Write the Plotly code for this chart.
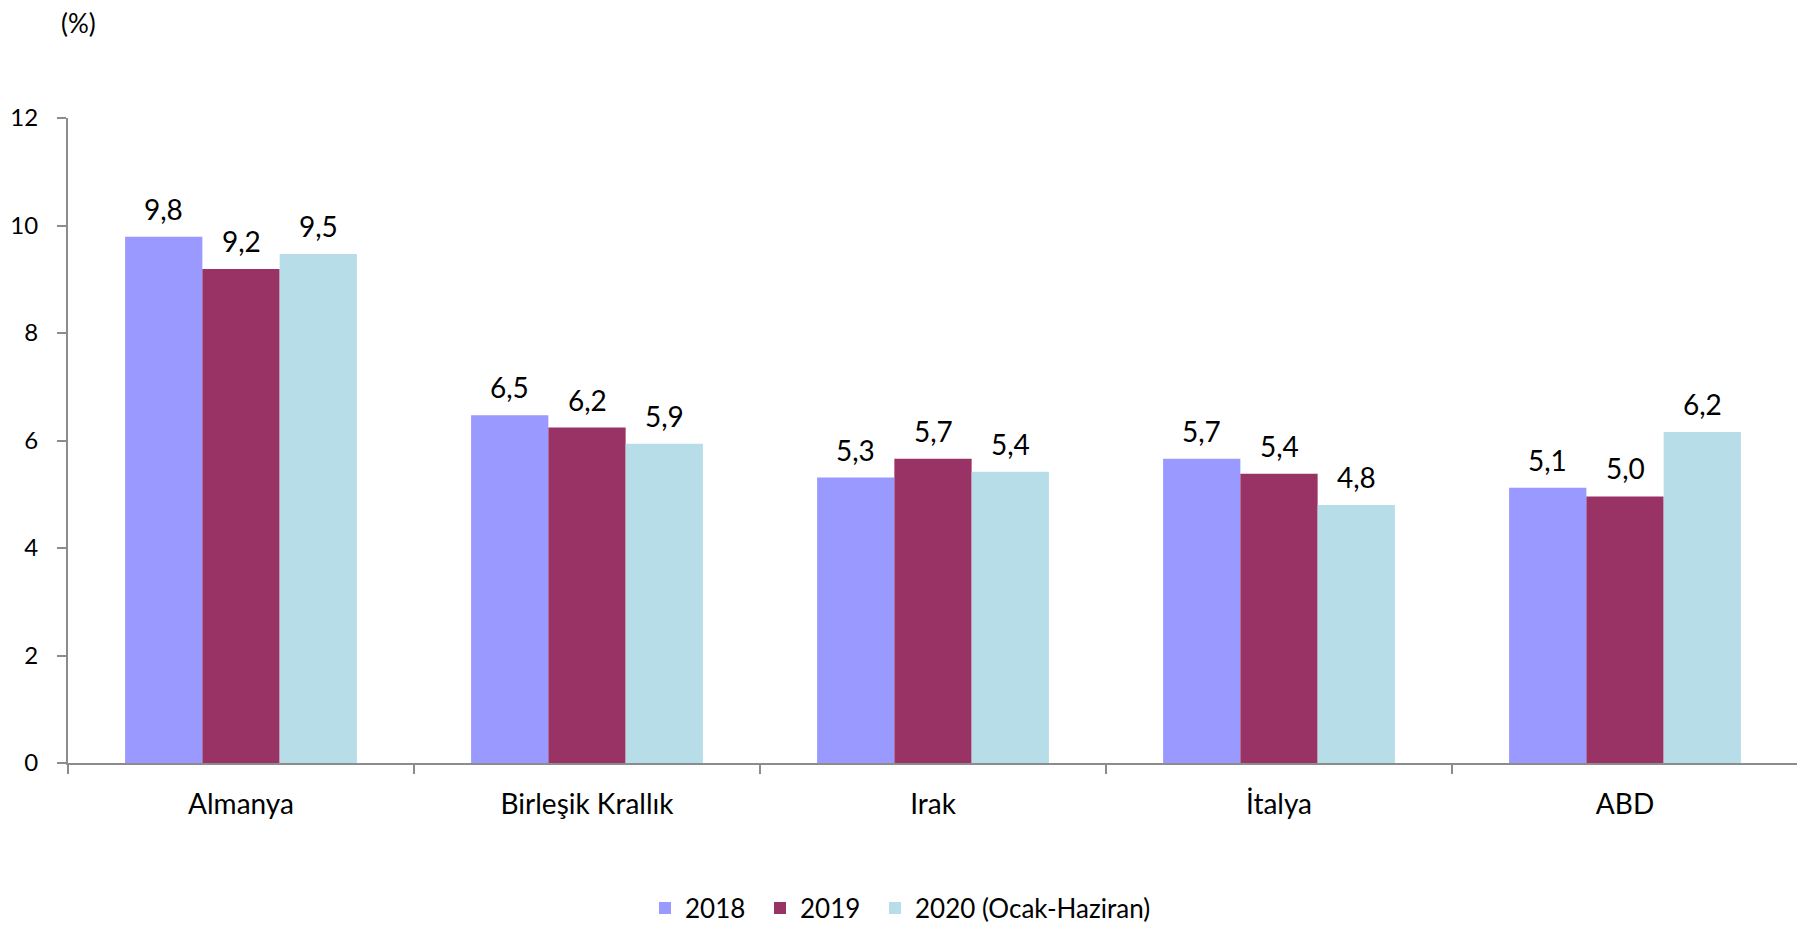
import plotly.graph_objects as go

# Veriler
ulkeler = ["Almanya", "Birleşik Krallık", "Irak", "İtalya", "ABD"]
seriler = ["2018", "2019", "2020 (Ocak-Haziran)"]
degerler_2018 = [9.79, 6.47, 5.31, 5.66, 5.12]
degerler_2019 = [9.19, 6.24, 5.66, 5.38, 4.96]
degerler_2020 = [9.47, 5.94, 5.42, 4.80, 6.16]
renkler = ["#9999ff", "#993366", "#b7dde8"]

# sayfa gövdesi 8px kenar boşluğu bırakıyor, figür ona göre küçültüldü
W, H = 1797, 917
ML, MR, MT, MB = 60, 7, 110, 162
BARGAP = 0.33
FONT = "Lato, 'Noto Sans', sans-serif"
EKSEN_RENK = "#8c8c8c"

fig = go.Figure()

# her seri kendi lejantında, aralıkları referanstaki gibi olsun diye
lejantlar = ["legend", "legend2", "legend3"]
lejant_x = [637, 752, 867]

tum_degerler = [degerler_2018, degerler_2019, degerler_2020]
for ad, vals, renk, lj in zip(seriler, tum_degerler, renkler, lejantlar):
    fig.add_trace(go.Bar(
        x=ulkeler,
        y=vals,
        name=ad,
        legend=lj,
        marker=dict(color=renk, line=dict(width=0)),
        hovertemplate='%{x}: %{y:.1f}<extra>' + ad + '</extra>',
    ))

# Bar üstü etiketler (virgüllü ondalık)
plot_w = W - ML - MR
plot_h = H - MT - MB
bar_px = plot_w / len(ulkeler) * (1 - BARGAP) / len(seriler)
for i, vals in enumerate(tum_degerler):
    for ulke, v in zip(ulkeler, vals):
        fig.add_annotation(
            x=ulke, y=v, xref="x", yref="y",
            text=f"{v:.1f}".replace(".", ","),
            showarrow=False,
            xshift=(i - (len(seriler) - 1) / 2) * bar_px,
            yshift=9,
            yanchor="bottom",
            font=dict(size=28, color="#000000", family=FONT),
        )

fig.add_annotation(
    text="(%)", xref="paper", yref="paper",
    x=(70 - ML) / plot_w, y=(H - MB - 15) / plot_h,
    showarrow=False, xanchor="center", yanchor="middle",
    font=dict(size=26, color="#000000", family=FONT),
)

lejant_ayar = {}
for lj, lx in zip(lejantlar, lejant_x):
    lejant_ayar[lj] = dict(
        orientation="h",
        xref="container", yref="container",
        x=lx / W, xanchor="left",
        y=1 - 900 / H, yanchor="middle",
        font=dict(size=26, family=FONT),
        itemwidth=30,
    )

fig.update_layout(
    width=W,
    height=H,
    barmode="group",
    bargap=BARGAP,
    bargroupgap=0,
    plot_bgcolor="white",
    paper_bgcolor="white",
    margin=dict(l=ML, r=MR, t=MT, b=MB, autoexpand=False),
    font=dict(family=FONT, size=26, color="#000000"),
    showlegend=True,
    xaxis=dict(
        type="category",
        automargin=False,
        showline=True, linecolor=EKSEN_RENK, linewidth=2,
        ticks="outside", tickson="boundaries", ticklen=9,
        tickcolor=EKSEN_RENK, tickwidth=2,
        ticklabelstandoff=15,
        tickfont=dict(size=28, family=FONT),
        showgrid=False,
    ),
    yaxis=dict(
        range=[0, 12],
        dtick=2,
        automargin=False,
        showline=True, linecolor=EKSEN_RENK, linewidth=2,
        ticks="outside", ticklen=9, tickcolor=EKSEN_RENK, tickwidth=2,
        ticklabelstandoff=14,
        tickfont=dict(size=24, family=FONT),
        showgrid=False,
        zeroline=False,
    ),
    **lejant_ayar,
)

fig.write_html("out.html")
